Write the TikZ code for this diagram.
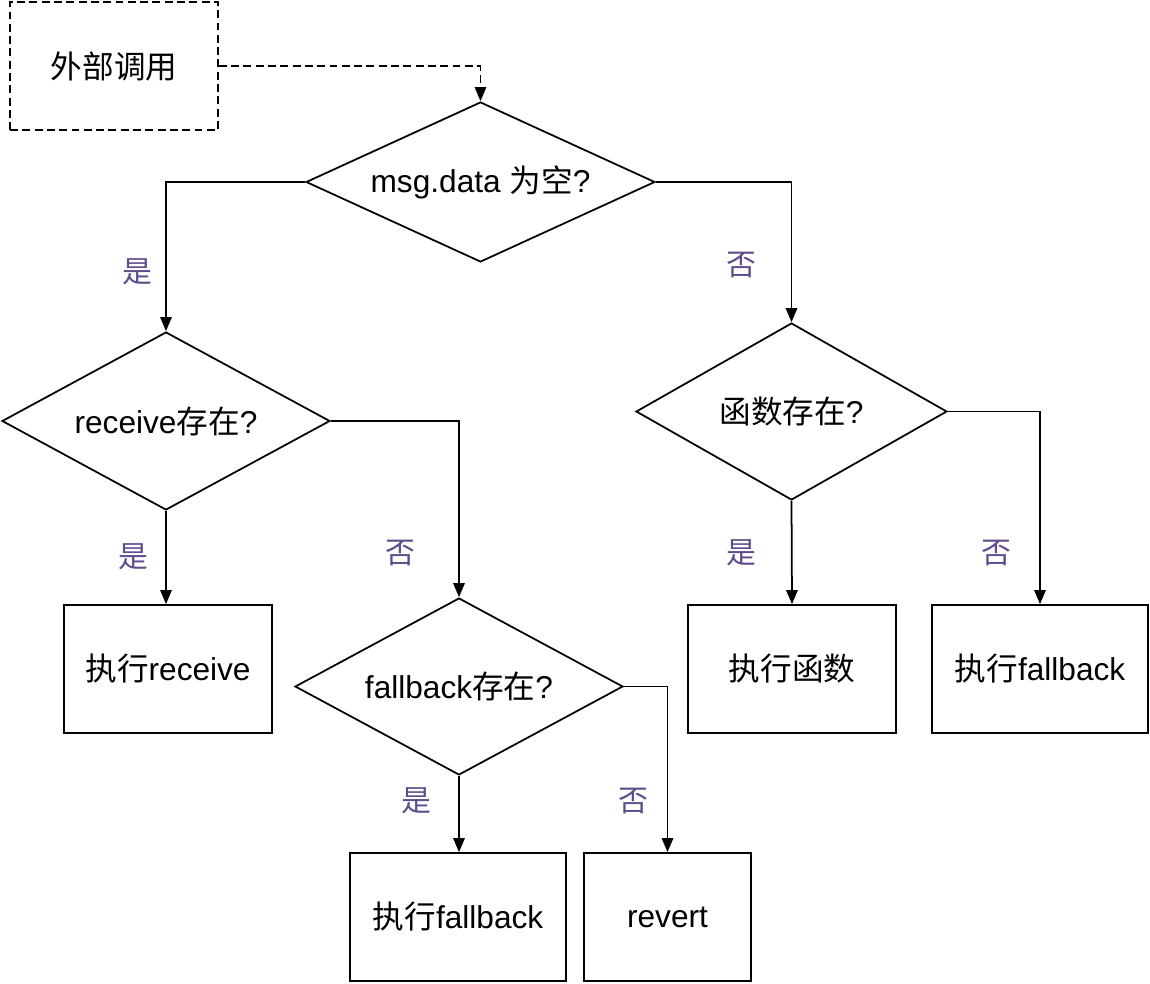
\documentclass[tikz,border=0pt]{standalone}
\usepackage{fontspec}
\setmainfont{Liberation Sans}
\newfontfamily\cjk{Noto Sans CJK SC}
\newcommand{\zh}[1]{{\cjk #1}}
\definecolor{labelpurple}{RGB}{94,76,140}
\usetikzlibrary{shapes.geometric,arrows.meta,positioning}

\begin{document}
\begin{tikzpicture}[x=0.02cm,y=-0.02cm,
    line width=1pt,
    every node/.style={font=\fontsize{18}{22}\selectfont},
    decision/.style={draw,diamond,inner sep=0pt},
    action/.style={draw,rectangle,inner sep=0pt,minimum height=2.56cm},
    branch/.style={text=labelpurple,font=\fontsize{17}{20}\selectfont},
    flow/.style={-{Triangle[width=6.5pt,length=8pt]}},
    ]
    \useasboundingbox (0,0) rectangle (1150,984);

    \node (ext) [draw,dashed,dash pattern=on 4.5pt off 2.5pt,minimum width=4.16cm,minimum height=2.56cm] at (114,66) {\zh{外部调用}};

    \node (d1) [decision,aspect=2.18,minimum width=6.98cm,minimum height=3.2cm] at (480.5,182) {msg.data \zh{为空}?};
    \node (d2) [decision,aspect=1.84,minimum width=6.56cm,minimum height=3.56cm] at (166,421) {receive\zh{存在}?};
    \node (d3) [decision,aspect=1.76,minimum width=6.22cm,minimum height=3.54cm] at (791.5,411.5) {\zh{函数存在}?};
    \node (d4) [decision,aspect=1.85,minimum width=6.56cm,minimum height=3.54cm] at (459,686.5) {fallback\zh{存在}?};

    \node (recv) [action,minimum width=4.16cm] at (168,669) {\zh{执行}receive};
    \node (func) [action,minimum width=4.16cm] at (792,669) {\zh{执行函数}};
    \node (fb2) [action,minimum width=4.32cm] at (1040,669) {\zh{执行}fallback};
    \node (fb1) [action,minimum width=4.32cm] at (458,917) {\zh{执行}fallback};
    \node (rev) [action,minimum width=3.34cm] at (667.5,917) {revert};

    % the edges
    \draw [flow,dashed,dash pattern=on 4.5pt off 2.5pt] (ext.east) -| (d1.north);
    \draw [flow] (d1.west) -| (d2.north);
    \draw [flow] (d1.east) -| (d3.north);
    \draw [flow] (d2.south) -- (recv.north -| d2.south);
    \draw [flow] (d2.east) -| (d4.north);
    \draw [flow] (d3.south) -- (func.north);
    \draw [flow] (d3.east) -| (fb2.north);
    \draw [flow] (d4.south) -- (fb1.north -| d4.south);
    \draw [flow] (d4.east) -| (rev.north);

    % the labels
    \node (y1) [branch] at (137,272) {\zh{是}};
    \node (n1) [branch] at (741,265) {\zh{否}};
    \node (y2) [branch] at (133,557) {\zh{是}};
    \node (n2) [branch] at (400,553) {\zh{否}};
    \node (y3) [branch] at (741,553) {\zh{是}};
    \node (n3) [branch] at (996,553) {\zh{否}};
    \node (y4) [branch] at (416,801) {\zh{是}};
    \node (n4) [branch] at (633,801) {\zh{否}};
\end{tikzpicture}
\end{document}
